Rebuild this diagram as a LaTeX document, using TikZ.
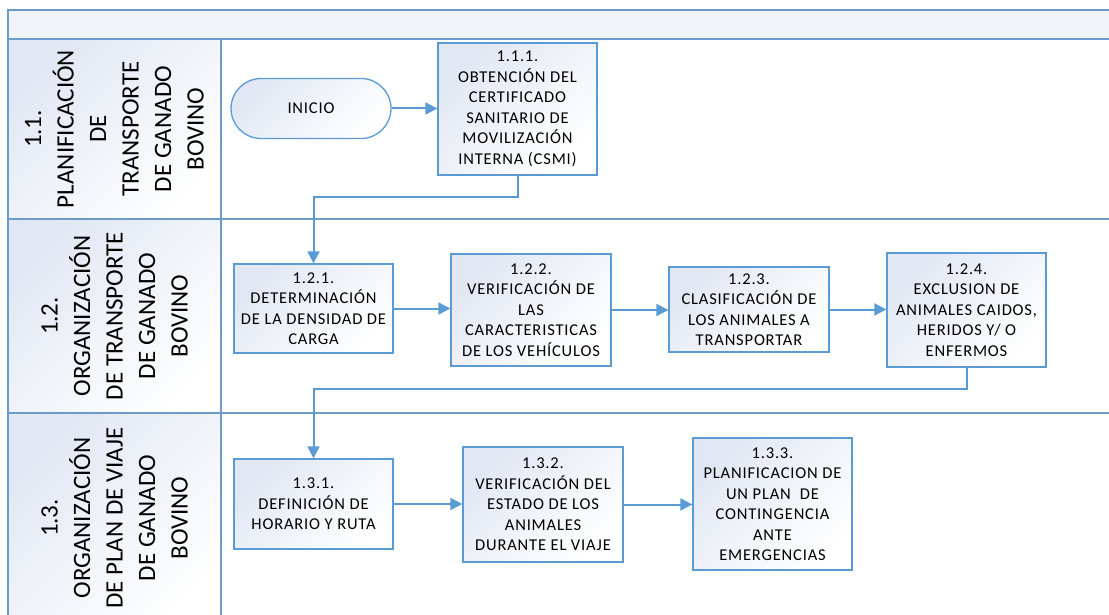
\documentclass[tikz,border=0pt]{standalone}
\usepackage{fontspec}
\setmainfont{Carlito}
\newfontfamily\cajafont[LetterSpace=5]{Carlito}
\usetikzlibrary{arrows.meta, positioning}

\definecolor{lineaazul}{HTML}{6A9BCB}
\definecolor{cajaazul}{HTML}{5B9BD5}
\definecolor{fondoazul}{HTML}{E1E7F3}
\definecolor{cabecera}{HTML}{F1F5FA}

\begin{document}
\begin{tikzpicture}[
    x=1pt, y=-1pt,
    caja/.style={draw=cajaazul, line width=1.3pt, top color=fondoazul, bottom color=white, shading angle=45, align=center, inner sep=2pt, font=\cajafont\fontsize{16.5}{20.5}\selectfont},
    inicio/.style={caja, rounded corners=30pt, minimum width=160pt, minimum height=60pt},
    arrow/.style={-{Triangle[length=12pt, width=12pt]}, line width=2pt, draw=cajaazul},
    carril/.style={rotate=90, align=center, font=\fontsize{25}{32.5}\selectfont},
    linea/.style={draw=lineaazul, line width=1.8pt},
    ]

\useasboundingbox (0,0) rectangle (1109,615);
\clip (0,0) rectangle (1109,615);

% Carriles
\fill[cabecera] (8,10) rectangle (1112,39);
\shade[top color=fondoazul, bottom color=white, shading angle=45] (8,39) rectangle (221,219);
\shade[top color=fondoazul, bottom color=white, shading angle=45] (8,219) rectangle (221,413);
\shade[top color=fondoazul, bottom color=white, shading angle=45] (8,413) rectangle (221,623);
\draw[linea] (1112,10) -- (8,10) -- (8,623);
\draw[linea] (8,39) -- (1112,39);
\draw[linea] (8,219) -- (1112,219);
\draw[linea] (8,413) -- (1112,413);
\draw[linea] (221,39) -- (221,623);

\node[carril] (carrilA) at (114.5,129) {1.1.\\PLANIFICACIÓN\\DE\\TRANSPORTE\\DE GANADO\\BOVINO};
\node[carril] (carrilB) at (114.5,316) {1.2.\\ORGANIZACIÓN\\DE TRANSPORTE\\DE GANADO\\BOVINO};
\node[carril] (carrilC) at (114.5,518) {1.3.\\ORGANIZACIÓN\\DE PLAN DE VIAJE\\DE GANADO\\BOVINO};

% Nodos
\node[inicio] (inicio) at (311,108.5) {INICIO};
\node[caja, minimum width=159pt, minimum height=132pt] (obtencion) at (517.5,109) {1.1.1.\\OBTENCIÓN DEL\\CERTIFICADO\\SANITARIO DE\\MOVILIZACIÓN\\INTERNA (CSMI)};

\node[caja, minimum width=159pt, minimum height=89pt] (densidad) at (313.5,308.5) {1.2.1.\\DETERMINACIÓN\\DE LA DENSIDAD DE\\CARGA};
\node[caja, minimum width=160pt, minimum height=112pt] (vehiculos) at (531,310) {1.2.2.\\VERIFICACIÓN DE\\LAS\\CARACTERISTICAS\\DE LOS VEHÍCULOS};
\node[caja, minimum width=160pt, minimum height=85pt] (clasificacion) at (749,309.5) {1.2.3.\\CLASIFICACIÓN DE\\LOS ANIMALES A\\TRANSPORTAR};
\node[caja, minimum width=159pt, minimum height=114pt] (exclusion) at (966.5,310) {1.2.4.\\EXCLUSION DE\\ANIMALES CAIDOS,\\HERIDOS Y/ O\\ENFERMOS};

\node[caja, minimum width=159pt, minimum height=90pt] (horario) at (313.5,504) {1.3.1.\\DEFINICIÓN DE\\HORARIO Y RUTA};
\node[caja, minimum width=160pt, minimum height=115pt] (estado) at (543,504.5) {1.3.2.\\VERIFICACIÓN DEL\\ESTADO DE LOS\\ANIMALES\\DURANTE EL VIAJE};
\node[caja, minimum width=159pt, minimum height=132pt] (contingencia) at (772.5,504) {1.3.3.\\PLANIFICACION DE\\UN PLAN~ DE\\CONTINGENCIA\\ANTE\\EMERGENCIAS};

\coordinate (cambio1) at (313.5,197);
\coordinate (cambio2) at (313.5,389);

% Flechas
\draw[arrow] (inicio) -- (inicio -| obtencion.west);
\draw[arrow] (obtencion.south) |- (cambio1) -- (densidad.north);

\draw[arrow] (densidad) -- (densidad -| vehiculos.west);
\draw[arrow] (vehiculos) -- (vehiculos -| clasificacion.west);
\draw[arrow] (clasificacion) -- (clasificacion -| exclusion.west);
\draw[arrow] (exclusion.south) |- (cambio2) -- (horario.north);

\draw[arrow] (horario) -- (horario -| estado.west);
\draw[arrow] (estado) -- (estado -| contingencia.west);

\end{tikzpicture}
\end{document}
